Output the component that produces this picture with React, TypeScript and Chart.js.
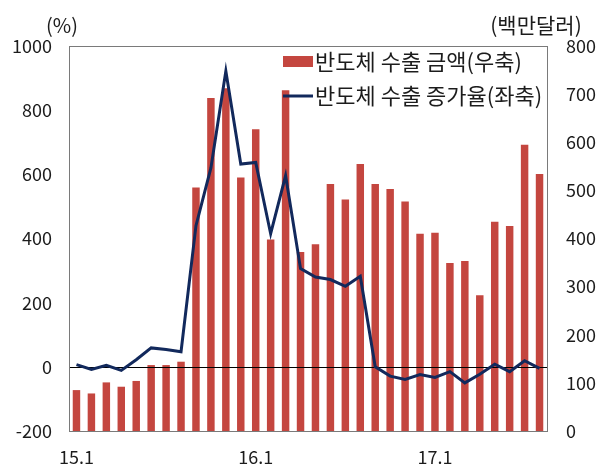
import { useEffect, useRef } from "react";
import { Chart, registerables } from "chart.js";

Chart.register(...registerables);

const months = [
  "15.1", "15.2", "15.3", "15.4", "15.5", "15.6", "15.7", "15.8", "15.9", "15.10", "15.11", "15.12",
  "16.1", "16.2", "16.3", "16.4", "16.5", "16.6", "16.7", "16.8", "16.9", "16.10", "16.11", "16.12",
  "17.1", "17.2", "17.3", "17.4", "17.5", "17.6", "17.7", "17.8",
];
const xTickLabels = ["15.1", "16.1", "17.1"];

// 반도체 수출 금액 (백만달러, 우축)
const exportAmount = [
  85, 78, 101, 92, 104, 137, 137, 144, 506, 692, 712, 527,
  627, 398, 708, 372, 388, 513, 481, 555, 513, 503, 477, 410,
  412, 349, 353, 282, 435, 426, 595, 534,
];
// 반도체 수출 증가율 (%, 좌축)
const growthRate = [
  7, -8, 5, -11, 22, 59, 54, 47, 440, 620, 922, 632,
  637, 415, 596, 306, 280, 272, 251, 282, 0, -29, -39, -24,
  -33, -15, -50, -23, 8, -15, 19, -5,
];
const leftTicks = { min: -200, max: 1000, step: 200 };
const rightTicks = { min: 0, max: 800, step: 100 };

const FONT = '"Noto Sans CJK KR", "Noto Sans", sans-serif';
const BAR_COLOR = "#C4463F";
const LINE_COLOR = "#12295C";
const TEXT_COLOR = "#1c1c1c";

const decoPlugin = {
  id: "deco",
  afterDatasetDraw(chart: any, args: any) {
    if (args.index !== 0) return;
    const { ctx, chartArea } = chart;
    const y = Math.round(chart.scales.yL.getPixelForValue(0)) + 0.5;
    ctx.save();
    ctx.strokeStyle = "#000";
    ctx.lineWidth = 1;
    ctx.beginPath();
    ctx.moveTo(chartArea.left, y);
    ctx.lineTo(chartArea.right, y);
    ctx.stroke();
    ctx.restore();
  },
  afterDraw(chart: any) {
    const { ctx, chartArea } = chart;
    ctx.save();
    // frame
    ctx.strokeStyle = "#7a7a7a";
    ctx.lineWidth = 1;
    ctx.strokeRect(
      Math.round(chartArea.left) + 0.5,
      Math.round(chartArea.top) + 0.5,
      Math.round(chartArea.right - chartArea.left),
      Math.round(chartArea.bottom - chartArea.top)
    );
    // axis unit titles
    ctx.fillStyle = TEXT_COLOR;
    ctx.textBaseline = "middle";
    ctx.textAlign = "center";
    ctx.font = `20px ${FONT}`;
    ctx.fillText("(%)", 62, 25);
    ctx.font = `21px ${FONT}`;
    ctx.fillText("(백만달러)", 536, 25);
    // legend
    const ds = chart.data.datasets;
    const lx = 283;
    ctx.textAlign = "left";
    ctx.font = `22px ${FONT}`;
    ctx.fillStyle = BAR_COLOR;
    ctx.fillRect(lx, 56, 30, 11);
    ctx.fillStyle = TEXT_COLOR;
    ctx.fillText(ds[0].label, 315, 62);
    ctx.strokeStyle = LINE_COLOR;
    ctx.lineWidth = 3;
    ctx.beginPath();
    ctx.moveTo(lx, 96);
    ctx.lineTo(lx + 30, 96);
    ctx.stroke();
    ctx.fillText(ds[1].label, 315, 96);
    ctx.restore();
  },
};

export default function App() {
  const ref = useRef<HTMLCanvasElement | null>(null);

  useEffect(() => {
    if (!ref.current) return;
    const chart = new Chart(ref.current, {
      type: "bar",
      data: {
        labels: months,
        datasets: [
          {
            type: "bar",
            label: "반도체 수출 금액(우축)",
            data: exportAmount,
            yAxisID: "yR",
            backgroundColor: BAR_COLOR,
            barPercentage: 0.5,
            categoryPercentage: 1,
            order: 2,
          },
          {
            type: "line",
            label: "반도체 수출 증가율(좌축)",
            data: growthRate,
            yAxisID: "yL",
            borderColor: LINE_COLOR,
            backgroundColor: LINE_COLOR,
            borderWidth: 3,
            pointRadius: 0,
            tension: 0,
            order: 1,
          },
        ],
      } as any,
      options: {
        animation: false,
        responsive: false,
        devicePixelRatio: 1,
        layout: { padding: { top: 46, left: 0, right: 0, bottom: 0 } },
        plugins: { legend: { display: false }, tooltip: { enabled: false } },
        scales: {
          x: {
            offset: true,
            grid: { display: false, drawTicks: false },
            border: { display: false },
            ticks: {
              autoSkip: false,
              maxRotation: 0,
              padding: 15,
              color: TEXT_COLOR,
              font: { family: FONT, size: 18 },
              callback: (_v: any, i: number) =>
                xTickLabels.includes(months[i]) ? months[i] : "",
            },
            afterFit: (s: any) => {
              s.height = 35;
            },
          },
          yL: {
            position: "left",
            min: leftTicks.min,
            max: leftTicks.max,
            grid: { display: false, drawTicks: false },
            border: { display: false },
            ticks: {
              stepSize: leftTicks.step,
              padding: 17,
              color: TEXT_COLOR,
              font: { family: FONT, size: 18 },
              callback: (v: any) => String(v),
            },
            afterFit: (s: any) => {
              s.width = 69;
            },
          },
          yR: {
            position: "right",
            min: rightTicks.min,
            max: rightTicks.max,
            grid: { display: false, drawTicks: false },
            border: { display: false },
            ticks: {
              stepSize: rightTicks.step,
              padding: 19,
              color: TEXT_COLOR,
              font: { family: FONT, size: 18 },
              callback: (v: any) => String(v),
            },
            afterFit: (s: any) => {
              s.width = 59;
            },
          },
        },
      } as any,
      plugins: [decoPlugin],
    });
    return () => chart.destroy();
  }, []);

  return (
    <div style={{ position: "fixed", left: 0, top: 0, width: 606, height: 466, background: "#fff" }}>
      <canvas ref={ref} width={606} height={466} />
    </div>
  );
}
